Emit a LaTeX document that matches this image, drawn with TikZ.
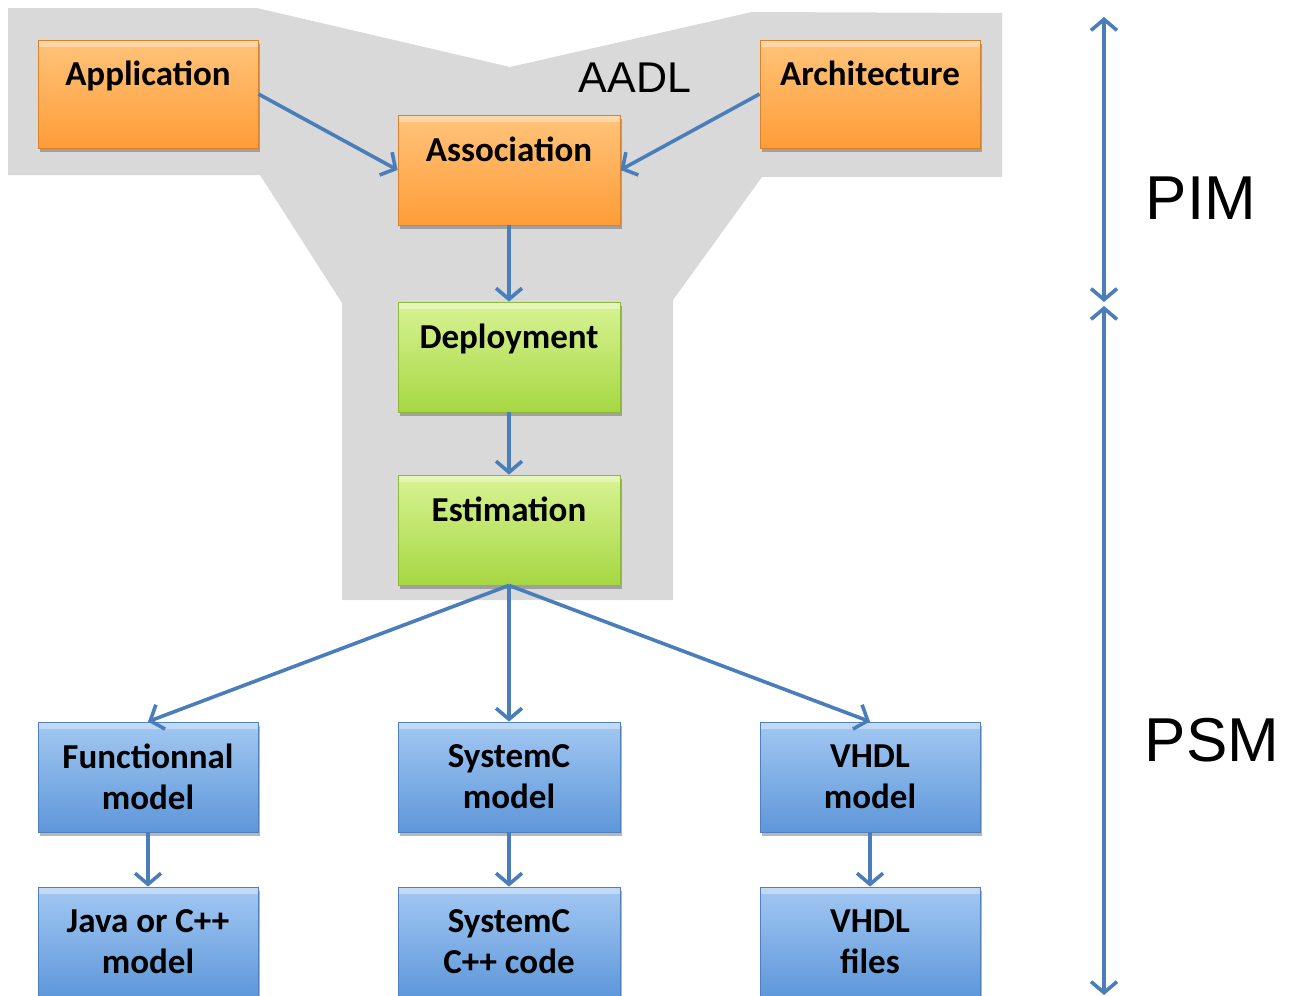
\documentclass[tikz,border=0pt]{standalone}
\usepackage{fontspec}
\setmainfont{Carlito}
\newfontfamily\arialf{Liberation Sans}
\usetikzlibrary{arrows.meta,shadows}
\definecolor{graybg}{HTML}{D9D9D9}
\definecolor{orTop}{HTML}{FFC47A}
\definecolor{orBot}{HTML}{FF9C38}
\definecolor{orDraw}{HTML}{D9822B}
\definecolor{grTop}{HTML}{D8F394}
\definecolor{grBot}{HTML}{A6D742}
\definecolor{grDraw}{HTML}{8DB83A}
\definecolor{blTop}{HTML}{A3C8F2}
\definecolor{blBot}{HTML}{5E97DA}
\definecolor{blDraw}{HTML}{4F7FBF}
\definecolor{arrowblue}{HTML}{4A7EBB}
\begin{document}
\begin{tikzpicture}[x=1pt,y=-1pt,
  box/.style={rectangle, minimum width=220pt, minimum height=108pt, inner sep=0pt,
    line width=0.8pt, align=center, font=\fontsize{35}{41}\selectfont\bfseries,
    drop shadow={shadow xshift=2pt,shadow yshift=-4pt,opacity=0.4,fill=black!70},
    path picture={\fill[white,opacity=0.35] (path picture bounding box.north west) rectangle ([yshift=-7pt]path picture bounding box.north east);}},
  orbox/.style={box, top color=orTop, bottom color=orBot, draw=orDraw},
  grbox/.style={box, top color=grTop, bottom color=grBot, draw=grDraw},
  blbox/.style={box, top color=blTop, bottom color=blBot, draw=blDraw},
  conn/.style={draw=arrowblue, line width=3.6pt, -{Straight Barb[length=11pt,width=26pt]}},
  dconn/.style={draw=arrowblue, line width=3.6pt, {Straight Barb[length=11pt,width=26pt]}-{Straight Barb[length=11pt,width=26pt]}},
  biglabel/.style={font=\arialf\fontsize{#1}{#1}\selectfont, inner sep=0pt}
]
\useasboundingbox (0,0) rectangle (1291,996);
% gray AADL region
\fill[graybg] (8,8) -- (257,8) -- (510,67) -- (752,12) -- (1002,13) -- (1002,177)
  -- (762,177) -- (673,300) -- (673,600) -- (342,600) -- (342,303) -- (260,175)
  -- (8,175) -- cycle;
\node[biglabel=43] (aadl) at (635,78) {AADL};

% boxes
\node[orbox] (app) at (148,94) {Application\\\phantom{model}};
\node[orbox] (arch) at (870,94) {Architecture\\\phantom{model}};
\node[orbox, minimum width=222pt, minimum height=110pt] (assoc) at (509,170) {Association\\\phantom{model}};
\node[grbox, minimum width=222pt, minimum height=110pt] (deploy) at (509,357) {Deployment\\\phantom{model}};
\node[grbox, minimum width=222pt, minimum height=110pt] (estim) at (509,530) {Estimation\\\phantom{model}};

\node[blbox, minimum height=110pt] (func) at (148,777) {Functionnal\\model};
\node[blbox, minimum width=222pt, minimum height=110pt] (scm) at (509,777) {SystemC\\model};
\node[blbox, minimum height=110pt] (vhm) at (870,777) {VHDL\\model};
\node[blbox, minimum height=110pt] (java) at (148,942) {Java or C++\\model};
\node[blbox, minimum width=222pt, minimum height=110pt] (scc) at (509,942) {SystemC\\C++ code};
\node[blbox, minimum height=110pt] (vhf) at (870,942) {VHDL\\files};

% connectors
\draw[conn] (app.east) -- (assoc.west);
\draw[conn] (arch.west) -- (assoc.east);
\draw[conn] (assoc.south) -- (deploy.north);
\draw[conn] (deploy.south) -- (estim.north);
\draw[conn] (estim.south) -- (func.north);
\draw[conn] (estim.south) -- (scm.north);
\draw[conn] (estim.south) -- (vhm.north);
\draw[conn] (func.south) -- (java.north);
\draw[conn] (scm.south) -- (scc.north);
\draw[conn] (vhm.south) -- (vhf.north);

% PIM / PSM
\coordinate (pimtop) at (1104,17);
\coordinate (pimbot) at (1104,302);
\coordinate (psmtop) at (1104,306);
\coordinate (psmbot) at (1104,995);
\draw[dconn] (pimtop) -- (pimbot);
\draw[dconn] (psmtop) -- (psmbot);
\node[biglabel=62] (pim) at (1201,198) {PIM};
\node[biglabel=62] (psm) at (1212,740) {PSM};
\end{tikzpicture}
\end{document}
